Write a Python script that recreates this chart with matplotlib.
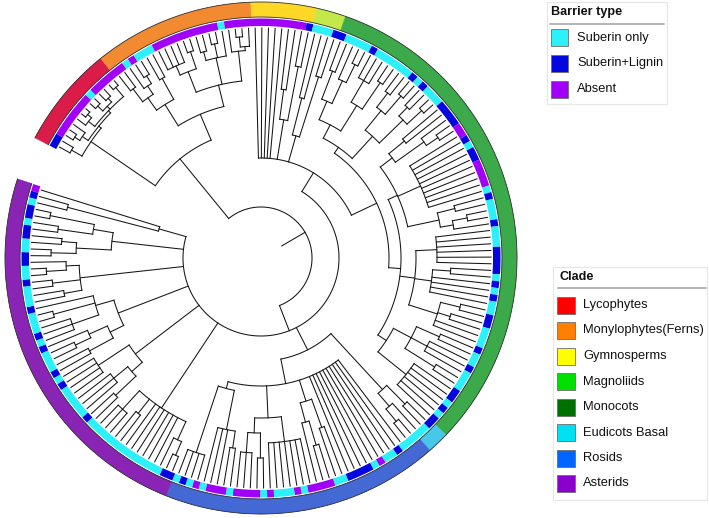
import re
import numpy as np
import matplotlib
matplotlib.use("Agg")
import matplotlib.pyplot as plt
from matplotlib.patches import Wedge, Rectangle
from matplotlib.collections import LineCollection

plt.rcParams['font.family'] = ['Liberation Sans', 'DejaVu Sans']

# ---------------- data ----------------
CLADES = ["Lycophytes", "Monylophytes(Ferns)", "Gymnosperms", "Magnoliids",
          "Monocots", "Eudicots Basal", "Rosids", "Asterids"]
CLADE_TIP_COUNTS = [14, 22, 9, 4, 69, 3, 38, 52]
CLADE_RING_COLORS = ["#DC1C48", "#F28A32", "#FFD726", "#C2E84A",
                     "#3CA94A", "#48C8E8", "#4468D4", "#8A24B4"]
CLADE_LEGEND_COLORS = ["#FF0000", "#FF7F00", "#FFFF00", "#00E000",
                       "#007000", "#00E0F0", "#0066FF", "#8B00CC"]

BARRIER_TYPES = ["Suberin only", "Suberin+Lignin", "Absent"]
BARRIER_CODES = ["S", "L", "A"]
BARRIER_COLORS = ["#2CF0FA", "#0505E0", "#A000F8"]

# barrier type of every tip, in tip order (clockwise from the Lycophytes end)
TIP_BARRIER = (
    "LL AAAAAAA S AAAAAA S A SSS AAAAAAAAAA S AAAAAAAAAAAA "
    "L SSS LL SSSS L SSSSSS L S L SSS LLLL AA L S LL AAAA S L SSS L SSS "
    "LLLL S L S L SS LL SSS L SS L SSS LL S L S LL SSSSS L SS A S LLLL SS "
    "AAAA S A SSS A S AAAA S AAA S A S L S LL SSSSSSSSSSSSS L SSSSS L S L "
    "SSS L S L SSS L SSS L SS LL SS LL S LL S L A"
).replace(" ", "")

# tree topology: "[depth children...]", an integer k = k tips on that node
TIP_DEPTH = 230
LYCO = "[206 [218 2] [209 [216 [222 2] 1] [212 [220 1 [225 2]] [216 [223 2] [221 2]] [224 2]]]]"
FERN_A = "[181 [196 [212 2] [206 1 [215 2]]] [205 2]]"
FERN_B = "[178 [200 [210 4] [218 2]] [205 [214 2] [219 2] 1] [208 1 [212 [222 2] 1]]]"
GYMNO = "[140 [170 2] [195 2]]"
MAGNO = "[127 [165 2] [190 2]]"
MONO_A = "[135 [150 [170 [200 2] [195 1 [215 2]]] [180 [205 3] [212 2]]] [165 [190 [208 2] [214 2]] [198 [210 2] [218 2]]]]"
MONO_B1 = "[150 [165 [185 2] [200 1 [214 2]]] [175 10] [182 [200 2] [195 [210 2] 1]]]"
MONO_B2 = "[155 [176 6] [172 [190 2] 4] [185 [205 2] [198 2] 2]]"
MONO_B3 = "[150 [170 [195 2] [188 3] [205 2]] [186 6]]"
EUD_A = "[179 [205 2] [196 1 [212 2]]]"
ROSID = "[128 10 [150 [180 2] [170 [195 2] 1]] [160 [185 7] [175 [200 2] [195 3]]] [135 [175 [192 2] 3] [205 4]]]"
AST_1 = "[180 [200 [215 2] 1] 6 [198 2] [205 3]]"
AST_2 = "[158 [172 [200 2] [190 3]] [195 4]]"
AST_3 = "[153 [168 [195 2] [188 [205 2] 1]] [172 [200 3] [215 2] 1]]"
AST_4 = "[182 [200 2] [210 2] [195 [215 2] 1]]"
AST_5 = "[150 [185 [210 2] [200 2]] [170 [205 2] [215 2]]]"
AST_6 = "[106 [200 2] 1]"

SEED = (f"[78 [100 5 {GYMNO} {MAGNO} [128 {MONO_A} [140 {MONO_B1} {MONO_B2} {MONO_B3}]]] "
        f"[103 {EUD_A} {ROSID}] {AST_1} {AST_2} {AST_3} {AST_4} {AST_5} {AST_6}]")
SPORE = f"[128 {LYCO} [156 {FERN_A} {FERN_B}]]"
TREE = f"[24 [51 {SPORE} {SEED}]]"

# ---------------- layout ----------------
W, H = 709, 518
CX, CY = 261, 260
R_TIP = 230
BAR_IN, BAR_OUT = 232, 239.5
CL_IN, CL_OUT = 241, 256
START_ANG, TOTAL_SPAN = 152.0, 350.0


def parse_tree(s):
    toks = re.findall(r"\[|\]|\d+", s)
    state = {"pos": 0, "tip": 0}

    def node():
        assert toks[state["pos"]] == "["
        state["pos"] += 1
        depth = float(toks[state["pos"]])
        state["pos"] += 1
        kids = []
        while toks[state["pos"]] != "]":
            if toks[state["pos"]] == "[":
                kids.append(node())
            else:
                k = int(toks[state["pos"]])
                state["pos"] += 1
                for _ in range(k):
                    kids.append({"tip": state["tip"]})
                    state["tip"] += 1
        state["pos"] += 1
        return {"depth": depth, "kids": kids}

    root = node()
    return root, state["tip"]


root, ntips = parse_tree(TREE)
dtheta = TOTAL_SPAN / ntips
theta0 = START_ANG - dtheta / 2


def tip_angle(i):
    return theta0 - i * dtheta


def layout(n):
    if "tip" in n:
        n["ang"] = tip_angle(n["tip"])
        n["r"] = R_TIP
        return
    for k in n["kids"]:
        layout(k)
    n["ang"] = 0.5 * (n["kids"][0]["ang"] + n["kids"][-1]["ang"])
    n["r"] = n["depth"] * R_TIP / TIP_DEPTH


layout(root)


def pol(r, a):
    t = np.radians(a)
    return CX + r * np.cos(t), CY + r * np.sin(t)


segs = []


def collect(n):
    if "tip" in n:
        return
    kids = n["kids"]
    if len(kids) > 1:
        a0, a1 = kids[-1]["ang"], kids[0]["ang"]
        ts = np.linspace(a0, a1, max(2, int(abs(a1 - a0) / 0.4) + 2))
        xs, ys = pol(n["r"], ts)
        segs.append(np.column_stack([xs, ys]))
    for k in kids:
        segs.append([pol(n["r"], k["ang"]), pol(k["r"], k["ang"])])
        collect(k)


collect(root)

fig = plt.figure(figsize=(W / 100, H / 100), dpi=100)
ax = fig.add_axes([0, 0, 1, 1])
ax.set_xlim(0, W)
ax.set_ylim(0, H)
ax.set_aspect('equal')
ax.axis('off')

ax.add_collection(LineCollection(segs, colors="#151515", linewidths=0.75,
                                 capstyle='projecting'))

# barrier ring (runs of equal type merged)
cmap = dict(zip(BARRIER_CODES, BARRIER_COLORS))
codes = TIP_BARRIER[:ntips]
i = 0
while i < len(codes):
    j = i
    while j + 1 < len(codes) and codes[j + 1] == codes[i]:
        j += 1
    a_hi = tip_angle(i) + dtheta / 2
    a_lo = tip_angle(j) - dtheta / 2
    ax.add_patch(Wedge((CX, CY), BAR_OUT, a_lo, a_hi, width=BAR_OUT - BAR_IN,
                       facecolor=cmap[codes[i]], edgecolor='none'))
    i = j + 1

# clade ring
start = 0
for name, cnt, col in zip(CLADES, CLADE_TIP_COUNTS, CLADE_RING_COLORS):
    a_hi = tip_angle(start) + dtheta / 2
    a_lo = tip_angle(start + cnt - 1) - dtheta / 2
    ax.add_patch(Wedge((CX, CY), CL_OUT, a_lo, a_hi, width=CL_OUT - CL_IN,
                       facecolor=col, edgecolor=col, linewidth=0.3))
    start += cnt
a_end = START_ANG - TOTAL_SPAN
ts = np.linspace(a_end, START_ANG, 600)
for rr in (CL_OUT, CL_IN):
    xs, ys = pol(rr, ts)
    ax.plot(xs, ys, color="#333333", lw=0.6)


# ---------------- legends ----------------
def Y(y):
    return H - y


def legend_box(x0, y0, x1, y1, title, tx, ty, ux0, ux1, uy, items, px, pw, ph, lx, ys):
    ax.add_patch(Rectangle((x0, Y(y1)), x1 - x0, y1 - y0, facecolor='white',
                           edgecolor='#E6E6E6', lw=0.8))
    ax.text(tx, Y(ty), title, fontsize=9.1, fontweight='bold', va='center', ha='left',
            color='#111111')
    ax.plot([ux0, ux1], [Y(uy), Y(uy)], color='#A0A0A0', lw=1.1)
    for (lab, col), yc in zip(items, ys):
        ax.add_patch(Rectangle((px, Y(yc) - ph / 2), pw, ph, facecolor=col,
                               edgecolor='#6E6E6E', lw=0.6))
        ax.text(lx, Y(yc), lab, fontsize=9.25, va='center', ha='left', color='#111111')


legend_box(547, 2, 667, 104, "Barrier type", 551, 12.5, 550, 664, 23.5,
           list(zip(BARRIER_TYPES, BARRIER_COLORS)), 551, 17, 17, 577,
           [37.7, 63.3, 89.0])

legend_box(553, 267, 707, 500, "Clade", 560, 277.5, 558, 706, 288,
           list(zip(CLADES, CLADE_LEGEND_COLORS)), 557, 18, 17, 583,
           [305 + k * 25.5 for k in range(8)])

fig.savefig("out.png", dpi=100)
